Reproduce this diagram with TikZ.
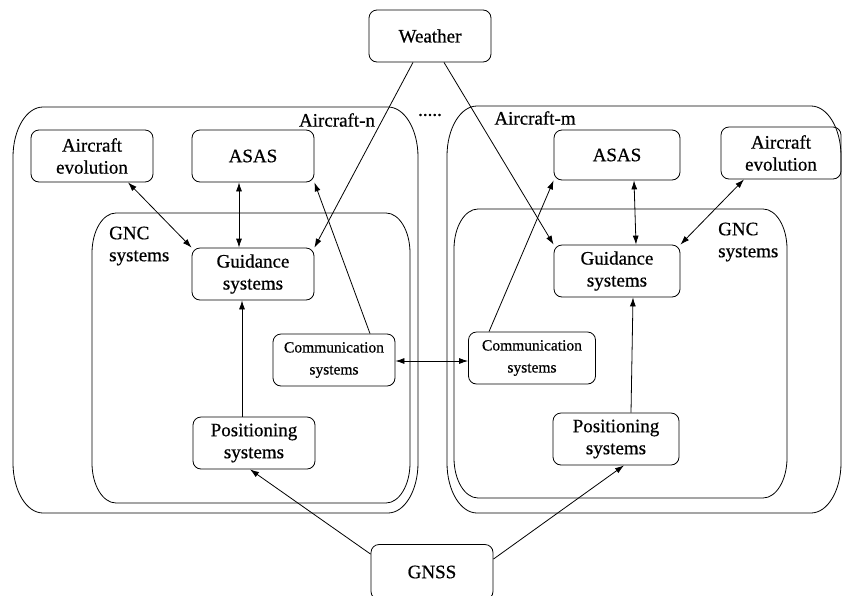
\documentclass[tikz,border=0pt]{standalone}
\usepackage{fontspec}
\setmainfont{Liberation Serif}
\newfontfamily\heavyfont{Liberation Serif}[FakeBold=0.6]
\usetikzlibrary{arrows.meta}
\newcommand\ellbox[6]{\draw[boxline] ({#1},{#2+#6}) .. controls ({#1},{#2+0.448*#6}) and ({#1+0.448*#5},{#2}) .. ({#1+#5},{#2}) -- ({#3-#5},{#2}) .. controls ({#3-0.448*#5},{#2}) and ({#3},{#2+0.448*#6}) .. ({#3},{#2+#6}) -- ({#3},{#4-#6}) .. controls ({#3},{#4-0.448*#6}) and ({#3-0.448*#5},{#4}) .. ({#3-#5},{#4}) -- ({#1+#5},{#4}) .. controls ({#1+0.448*#5},{#4}) and ({#1},{#4-0.448*#6}) .. ({#1},{#4-#6}) -- cycle;}
\begin{document}
\begin{tikzpicture}[x=1pt,y=-1pt,
  boxline/.style={draw=black,line width=0.8pt},
  sysbox/.style={draw=black,line width=0.8pt,rounded corners=8pt,minimum width=122pt,minimum height=52pt,inner sep=1pt,align=center,font=\heavyfont\fontsize{19}{22}\selectfont},
  smallbox/.style={sysbox,font=\heavyfont\fontsize{15.5}{22}\selectfont},
  lbl/.style={inner sep=0pt,font=\heavyfont\fontsize{19}{22}\selectfont},
  gnclbl/.style={inner sep=0pt,align=left,anchor=west,font=\heavyfont\fontsize{19}{22}\selectfont},
  conn/.style={line width=0.8pt,-{Latex[length=9pt,width=6pt]}},
  bconn/.style={line width=0.8pt,{Latex[length=9pt,width=6pt]}-{Latex[length=9pt,width=6pt]}}]
\useasboundingbox (0,0) rectangle (843,595);
% containers
\ellbox{13}{107}{418}{513}{30}{50}
\ellbox{447}{106}{841}{513}{30}{50}
\ellbox{92}{213}{410}{503}{24}{40}
\ellbox{454}{209}{787}{498}{24}{40}
% labels
\node[lbl] (lblN) at (337,120) {Aircraft-n};
\node[lbl] (lblM) at (535,118) {Aircraft-m};
\node[lbl] (dots) at (430,115) {.....};
\node[gnclbl] (gncL) at (109,246) {GNC\\systems};
\node[gnclbl] (gncR) at (718,242) {GNC\\systems};
% nodes
\node[sysbox] (weather) at (430,36) {Weather};
\node[sysbox,minimum height=55pt] (gnss) at (432,572) {GNSS};
\node[sysbox] (lae) at (92,156) {Aircraft\\evolution};
\node[sysbox] (lasas) at (253,156) {ASAS};
\node[sysbox] (lguid) at (253,274) {Guidance\\systems};
\node[smallbox] (lcomm) at (334,360) {Communication\\systems};
\node[sysbox] (lpos) at (254,443) {Positioning\\systems};
\node[sysbox,minimum width=126pt,minimum height=50pt] (rasas) at (617,155) {ASAS};
\node[sysbox,minimum width=120pt] (rae) at (781,153) {Aircraft\\evolution};
\node[sysbox,minimum width=126pt] (rguid) at (617,271) {Guidance\\systems};
\node[smallbox,minimum width=127pt] (rcomm) at (532,358) {Communication\\systems};
\node[sysbox,minimum width=126pt] (rpos) at (616,439) {Positioning\\systems};
% connectors
\draw[conn] ([xshift=-17pt]weather.south) -- (lguid.north east);
\draw[conn] ([xshift=14pt]weather.south) -- (rguid.north west);
\draw[bconn] ([xshift=36pt]lae.south) -- (lguid.north west);
\draw[bconn] ([xshift=-14pt]lasas.south) -- ([xshift=-14pt]lguid.north);
\draw[conn] ([xshift=36pt]lcomm.north) -- (lasas.south east);
\draw[conn] ([xshift=-12pt]lpos.north) -- ([xshift=-11pt]lguid.south);
\draw[conn] ([yshift=-10pt]gnss.north west) -- ([xshift=-4pt]lpos.south);
\draw[conn] ([yshift=-15pt]gnss.north east) -- ([xshift=8pt]rpos.south);
\draw[bconn] ([yshift=-1pt]lcomm.east) -- ([yshift=-1pt]lcomm.east -| rcomm.west);
\draw[conn] ([xshift=-43pt]rcomm.north) -- (rasas.south west);
\draw[bconn] ([xshift=17pt]rasas.south) -- ([xshift=19pt]rguid.north);
\draw[bconn] ([xshift=-37pt]rae.south) -- (rguid.north east);
\draw[conn] ([xshift=15pt]rpos.north) -- ([xshift=16pt]rguid.south);
\end{tikzpicture}
\end{document}
